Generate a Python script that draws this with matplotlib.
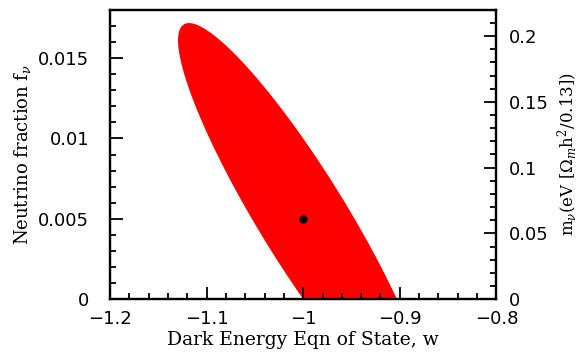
"""Dark energy w vs neutrino fraction: forecast 1-sigma ellipse."""

import matplotlib

matplotlib.use("Agg")
import matplotlib.pyplot as plt
import numpy as np
from matplotlib.ticker import MultipleLocator

# fiducial model
W_FID = -1.0
FNU_FID = 0.005

# marginal errors and correlation
SIGMA_W = 0.1296
SIGMA_FNU = 0.01218
RHO = -0.912

# m_nu (eV) = 94 * Omega_m h^2 * f_nu, with Omega_m h^2 = 0.13
MNU_PER_FNU = 94.0 * 0.13

XLIM = (-1.2, -0.8)
YLIM = (0.0, 0.018)

SERIF = ["DejaVu Serif"]
SANS = ["DejaVu Sans"]


def ellipse_boundary(n=400):
    cov = np.array([
        [SIGMA_W ** 2, RHO * SIGMA_W * SIGMA_FNU],
        [RHO * SIGMA_W * SIGMA_FNU, SIGMA_FNU ** 2],
    ])
    chol = np.linalg.cholesky(cov)
    t = np.linspace(0, 2 * np.pi, n)
    circle = np.vstack([np.cos(t), np.sin(t)])
    pts = chol @ circle
    return W_FID + pts[0], FNU_FID + pts[1]


def main():
    plt.rcParams.update({"font.family": SANS, "mathtext.fontset": "dejavuserif"})
    fig = plt.figure(figsize=(5.84, 3.54), dpi=100)
    ax = fig.add_axes([0.1884, 0.155, 0.6616, 0.817])

    ex, ey = ellipse_boundary()
    ax.fill(ex, ey, color="#ff0000", lw=0, zorder=1)
    ax.plot([W_FID], [FNU_FID], "o", color="black", ms=5, zorder=3)

    ax.set_xlim(*XLIM)
    ax.set_ylim(*YLIM)
    ax.xaxis.set_major_locator(MultipleLocator(0.1))
    ax.xaxis.set_minor_locator(MultipleLocator(0.02))
    ax.yaxis.set_major_locator(MultipleLocator(0.005))
    ax.yaxis.set_minor_locator(MultipleLocator(0.001))
    ax.xaxis.set_major_formatter(plt.FuncFormatter(lambda v, p: f"{v:g}".replace("-", "\u2212")))
    ax.yaxis.set_major_formatter(plt.FuncFormatter(lambda v, p: f"{v:g}"))
    ax.tick_params(which="both", direction="in", top=False, right=False,
                   width=1.3, labelsize=13)
    ax.tick_params(axis="x", pad=8)
    ax.tick_params(axis="y", pad=15)
    ax.tick_params(which="major", length=9)
    ax.tick_params(which="minor", length=4.5)
    for s in ax.spines.values():
        s.set_linewidth(1.6)

    ax.set_xlabel("Dark Energy Eqn of State, w", fontsize=13.5, family=SERIF, labelpad=2)
    ax.set_ylabel(r"Neutrino fraction f$_\nu$", fontsize=13, family=SERIF, labelpad=4)

    ax2 = ax.twinx()
    ax2.set_ylim(YLIM[0] * MNU_PER_FNU, YLIM[1] * MNU_PER_FNU)
    ax2.yaxis.set_major_locator(MultipleLocator(0.05))
    ax2.yaxis.set_minor_locator(MultipleLocator(0.01))
    ax2.yaxis.set_major_formatter(plt.FuncFormatter(lambda v, p: f"{v:g}"))
    ax2.tick_params(which="both", direction="in", width=1.3, labelsize=13, pad=9)
    ax2.tick_params(which="major", length=9)
    ax2.tick_params(which="minor", length=4.5)
    for s in ax2.spines.values():
        s.set_linewidth(1.6)
    ax2.set_ylabel(r"m$_\nu$(eV [$\Omega_m$h$^2$/0.13])", fontsize=12, family=SERIF,
                   labelpad=5)

    fig.savefig("out.png", dpi=100)


if __name__ == "__main__":
    main()
